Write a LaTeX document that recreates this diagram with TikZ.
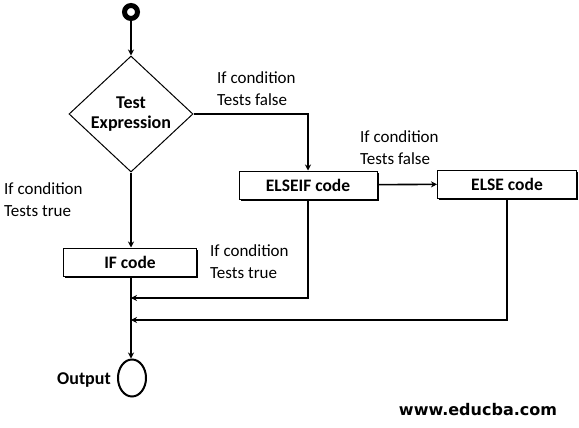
\documentclass[tikz,border=0pt]{standalone}
\usepackage{fontspec}
\setmainfont{Carlito}
\newfontfamily\webfont{DejaVu Sans}
\usetikzlibrary{shapes.geometric,shadows,arrows.meta}

\tikzstyle{start}=[circle,draw,line width=5pt,minimum size=13pt,inner sep=0pt]
\tikzstyle{stop}=[ellipse,draw,line width=2pt,minimum width=28pt,minimum height=37pt,inner sep=0pt]
\tikzstyle{decision}=[diamond,draw,line width=1pt,aspect=1.1,minimum width=124pt,minimum height=116pt,inner sep=0pt,align=center,font=\fontsize{18}{20}\selectfont\bfseries]
\tikzstyle{block}=[rectangle,draw,fill=white,line width=1pt,minimum height=28pt,font=\fontsize{17.5}{20}\selectfont\bfseries,
    drop shadow={shadow xshift=1.5pt,shadow yshift=-1.5pt,fill=black,opacity=1}]
\tikzstyle{note}=[align=left,anchor=west,inner sep=0pt,font=\fontsize{17}{22}\selectfont]
\tikzstyle{flow}=[draw,line width=1.6pt,-{Stealth[length=6pt,width=6pt]}]

\begin{document}
\begin{tikzpicture}[x=1pt,y=-1pt]
    \useasboundingbox (0,0) rectangle (579,428);

    \node[start] (begin) at (131,12) {};
    \node[decision] (test) at (131,114) {Test\\Expression};
    \node[block,minimum width=133pt] (ifcode) at (130,262) {IF code};
    \node[block,minimum width=138pt] (elseif) at (308,185) {ELSEIF code};
    \node[block,minimum width=139pt] (else) at (507,184) {ELSE code};
    \node[stop] (out) at (132,378) {};
    \node[anchor=east,inner sep=0pt,font=\fontsize{18}{20}\selectfont\bfseries] (outlbl) at (111,380) {Output};
    \node[inner sep=0pt,font=\fontsize{16}{18}\selectfont\webfont\bfseries] (web) at (478,410) {www.educba.com};

    % condition labels
    \foreach \pos/\name/\txt in {{(217,89)/fa/false}, {(360,148)/fb/false},
                                 {(4,200)/ta/true}, {(210,262)/tb/true}}
        \node[note] (\name) at \pos {If condition\\Tests \txt};

    \coordinate (ja) at (131,298);
    \coordinate (jb) at (131,320);

    \path[flow] (begin) -- (test);
    \path[flow] (test.east) -| (elseif.north);
    \path[flow] (test.south) -- (test.south |- ifcode.north);
    \path[flow] (elseif) -- (else);
    \path[flow] (ifcode.south -| test) -- (out.north -| test);
    \path[flow] (elseif.south) |- (ja);
    \path[flow] (else.south) |- (jb);
\end{tikzpicture}
\end{document}
